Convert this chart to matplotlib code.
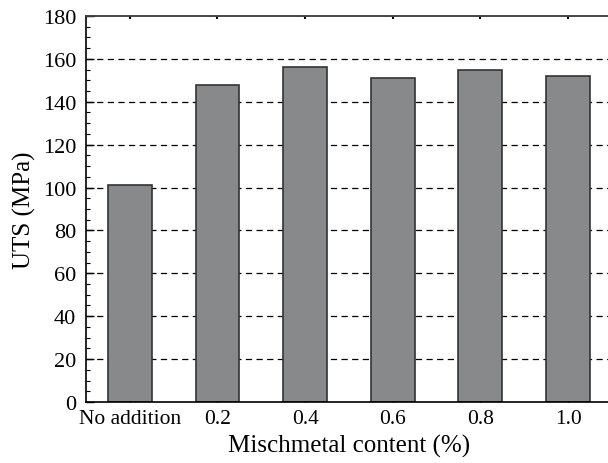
import matplotlib
matplotlib.use("Agg")
import matplotlib.pyplot as plt
from matplotlib.ticker import MultipleLocator

categories = ["No addition", "0.2", "0.4", "0.6", "0.8", "1.0"]
uts_values = [101, 148, 156, 151, 155, 152]
y_ticks = [0, 20, 40, 60, 80, 100, 120, 140, 160, 180]

plt.rcParams['font.family'] = ['Liberation Serif', 'DejaVu Serif']

fig = plt.figure(figsize=(6.08, 4.64), dpi=100)
ax = fig.add_axes([0.1414, 0.1315, 0.865, 0.832])

x = list(range(len(categories)))
ax.set_axisbelow(True)
for yv in y_ticks[1:-1]:
    ax.axhline(yv, color='black', lw=0.9, ls=(0, (5, 3.5)), zorder=0)
ax.bar(x, uts_values, width=0.5, color='#88898b', edgecolor='#333333', linewidth=1.2, zorder=2)

ax.set_xlim(-0.5, 5.5)
ax.set_ylim(0, 180)
ax.set_yticks(y_ticks)
ax.yaxis.set_minor_locator(MultipleLocator(5))
ax.set_xticks(x)
ax.set_xticklabels(categories)

ax.tick_params(axis='y', which='major', direction='in', length=6, width=1, labelsize=16, pad=7, left=True, right=False)
ax.tick_params(axis='y', which='minor', direction='in', length=3, width=0.8, left=True, right=False)
ax.tick_params(axis='x', which='major', direction='in', length=8, width=1, labelsize=15.5, pad=5, top=False, bottom=True)

top = ax.secondary_xaxis('top')
top.set_xticks(x)
top.tick_params(direction='in', length=2.5, width=1.5, labelsize=0, labeltop=False)
top.spines['top'].set_linewidth(1.2)
top.spines['top'].set_color('#444444')

for s in ['left', 'bottom']:
    ax.spines[s].set_linewidth(1.2)
ax.spines['top'].set_linewidth(1.2)
ax.spines['top'].set_color('#444444')
ax.spines['right'].set_visible(False)

ax.set_xlabel("Mischmetal content (%)", fontsize=18, labelpad=4)
ax.set_ylabel("UTS (MPa)", fontsize=18, labelpad=5)

fig.savefig("out.png", dpi=100)
